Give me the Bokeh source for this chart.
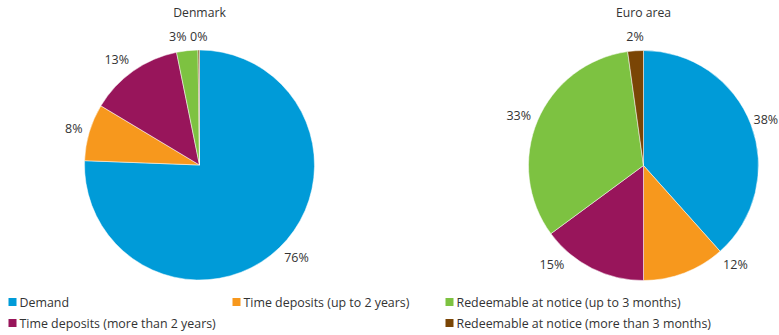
import math
from bokeh.plotting import figure
from bokeh.models import Range1d, ColumnDataSource
from bokeh.core.properties import value
from bokeh.embed import file_html
from bokeh.resources import INLINE

# ---------------- data ----------------
categories = [
    "Demand",
    "Time deposits (up to 2 years)",
    "Time deposits (more than 2 years)",
    "Redeemable at notice (up to 3 months)",
    "Redeemable at notice (more than 3 months)",
]
denmark_values = [75.6, 8.0, 13.2, 3.0, 0.2]
euro_values = [38.4, 11.6, 14.9, 32.9, 2.2]
pie_titles = ["Denmark", "Euro area"]

# ---------------- styles ----------------
colors = ["#009bd8", "#f7981d", "#98155b", "#7dc241", "#7a4505"]
FONT = "Open Sans"
TXT = "#333333"
W, H = 779, 335
R = 115
LABEL_GAP = 7
LABEL_HALF_H = 7
LABEL_YMAX = 264
LABEL_SIZE = 12.5
pies = [
    dict(title=pie_titles[0], values=denmark_values, cx=199, cy=164.5),
    dict(title=pie_titles[1], values=euro_values, cx=643, cy=165),
]
# legend layout: (column, row) for each category
legend_cells = [(0, 0), (1, 0), (0, 1), (2, 0), (2, 1)]
legend_cols_x = [8, 232, 445]
legend_rows_y = [301.5, 322.5]
SQ = 8


def Y(ys):
    return H - ys


p = figure(width=W, height=H, x_range=Range1d(0, W), y_range=Range1d(0, H),
           x_axis_type=None, y_axis_type=None, toolbar_location=None,
           output_backend="svg", min_border=0, outline_line_color=None,
           background_fill_color="white", border_fill_color="white")
p.grid.visible = False

for pie in pies:
    vals = pie["values"]
    total = sum(vals)
    cx, cy = pie["cx"], pie["cy"]
    starts, ends = [], []
    acc = 0.0
    mids = []
    for v in vals:
        t1 = acc / total * 360.0
        acc += v
        t2 = acc / total * 360.0
        starts.append(math.radians(90 - t2))
        ends.append(math.radians(90 - t1))
        mids.append((t1 + t2) / 2.0)
    src = ColumnDataSource(dict(x=[cx] * len(vals), y=[Y(cy)] * len(vals),
                                s=starts, e=ends, c=colors))
    p.wedge(x="x", y="y", radius=R, start_angle="s", end_angle="e",
            direction="anticlock", fill_color="c", line_color="white",
            line_width=0.5, source=src)

    # title
    p.text(x=[cx], y=[Y(12)], text=[pie["title"]], text_font=value(FONT),
           text_font_size="12.2px", text_color=TXT, text_align="center",
           text_baseline="middle")

    # percentage labels
    groups = {"left": ([], [], []), "right": ([], [], []), "center": ([], [], [])}
    for v, th in zip(vals, mids):
        dx = math.sin(math.radians(th))
        dy = -math.cos(math.radians(th))
        rr = R + LABEL_GAP
        yc = cy + rr * dy + LABEL_HALF_H * dy
        if yc > LABEL_YMAX:
            yc = LABEL_YMAX
            ya = yc - LABEL_HALF_H * dy
            d = max(-1.0, min(1.0, (ya - cy) / rr))
            dx = math.copysign(math.sqrt(1 - d * d), dx)
        xa = cx + rr * dx
        pct = round(v / total * 100)
        txt = f"{pct}%"
        est_w = LABEL_SIZE * (0.58 * (len(txt) - 1) + 0.84)
        if dx > 0.1:
            al = "left"
            xa = min(xa, W - 1 - est_w)
        elif dx < -0.1:
            al = "right"
            xa = max(xa, 1 + est_w)
        else:
            al = "center"
        groups[al][0].append(xa)
        groups[al][1].append(Y(yc))
        groups[al][2].append(txt)
    for al, (xs, ys, ts) in groups.items():
        if xs:
            p.text(x=xs, y=ys, text=ts, text_font=value(FONT),
                   text_font_size=f"{LABEL_SIZE}px", text_color=TXT,
                   text_align=al, text_baseline="middle")

# legend
lx, ly, tx, ty = [], [], [], []
for (col, row) in legend_cells:
    lx.append(legend_cols_x[col] + SQ / 2)
    ly.append(Y(legend_rows_y[row]))
    tx.append(legend_cols_x[col] + SQ + 3)
    ty.append(Y(legend_rows_y[row]))
p.rect(x=lx, y=ly, width=SQ, height=SQ, fill_color=colors, line_color=None)
p.text(x=tx, y=ty, text=categories, text_font=value(FONT), text_font_size="12.4px",
       text_color=TXT, text_align="left", text_baseline="middle")

open("out.html", "w").write(file_html(p, INLINE))
